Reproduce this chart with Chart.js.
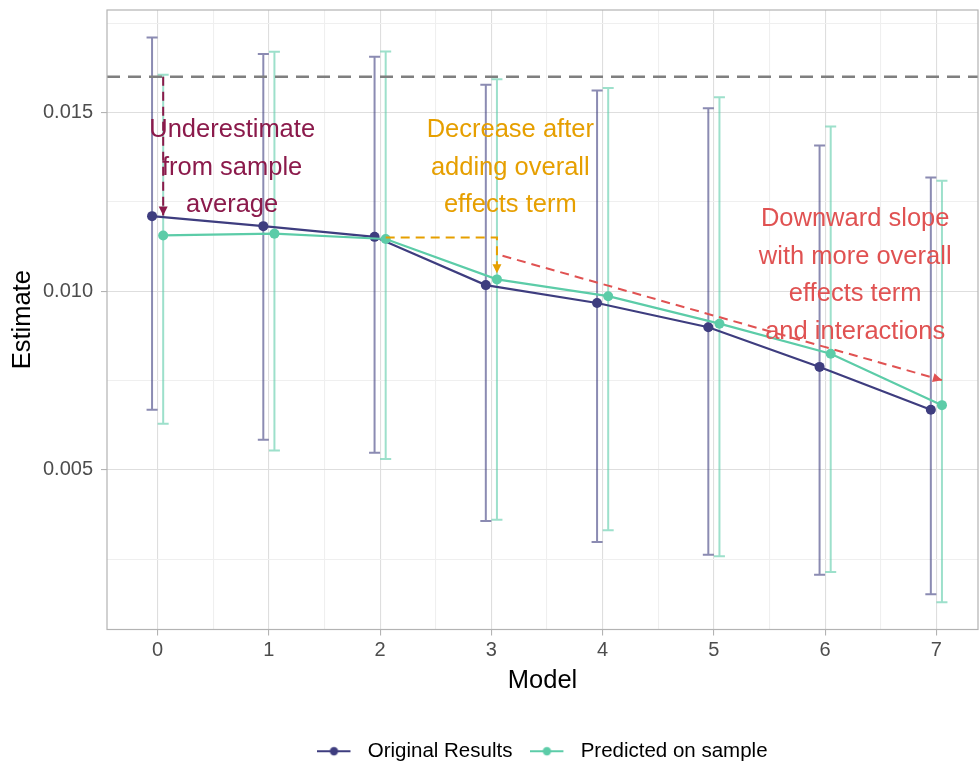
<!DOCTYPE html>
<html>
<head>
<meta charset="utf-8">
<title>Estimate by model</title>
<script src="https://cdn.jsdelivr.net/npm/chart.js@4.4.0/dist/chart.umd.min.js"></script>
<style>
    html, body { margin: 0; padding: 0; background: #ffffff; }
    #wrap { width: 979px; height: 765px; }
</style>
</head>
<body>
<div id="wrap"><canvas id="estimateChart" width="979" height="765"></canvas></div>
<script>
// Values
const models = [0, 1, 2, 3, 4, 5, 6, 7];
const originalEstimate = [0.01210, 0.01182, 0.01152, 0.01017, 0.00967, 0.00899, 0.00788, 0.00668];
const originalLower    = [0.00668, 0.00584, 0.00548, 0.00357, 0.00298, 0.00262, 0.00206, 0.00152];
const originalUpper    = [0.01710, 0.01664, 0.01656, 0.01578, 0.01562, 0.01512, 0.01408, 0.01318];
const predictedEstimate = [0.01156, 0.01161, 0.01146, 0.01033, 0.00986, 0.00909, 0.00825, 0.00681];
const predictedLower    = [0.00629, 0.00554, 0.00530, 0.00360, 0.00331, 0.00258, 0.00214, 0.00129];
const predictedUpper    = [0.01606, 0.01670, 0.01671, 0.01593, 0.01569, 0.01543, 0.01461, 0.01309];
const seriesNames = ['Original Results', 'Predicted on sample'];
const referenceValue = 0.016;

// Styling
const FONT = '"Liberation Sans", Arial, Helvetica, sans-serif';
const NAVY = '#3e3d7f';
const TEAL = '#5ccca8';
const DODGE = 0.05;
const CAP = 5.5;

// Text notes with dashed arrows (positions in data units)
const notes = [
    { lines: ['Underestimate', 'from sample', 'average'], x: 0.67, y: 0.01346, color: '#8b1a4b',
      path: [[0.05, 0.016], [0.05, 0.01212]] },
    { lines: ['Decrease after', 'adding overall', 'effects term'], x: 3.17, y: 0.01346, color: '#e69f00',
      path: [[2.05, 0.0115], [3.05, 0.0115], [3.05, 0.0105]] },
    { lines: ['Downward slope', 'with more overall', 'effects term', 'and interactions'], x: 6.27, y: 0.01044, color: '#e05252',
      path: [[3.1, 0.01099], [7.05, 0.00751]] }
];

function isMajor(v, step) {
    return Math.abs(v / step - Math.round(v / step)) < 1e-6;
}

// Small line + dot key, like the ggplot legend
function legendKey(color) {
    const c = document.createElement('canvas');
    c.width = 40;
    c.height = 12;
    const k = c.getContext('2d');
    k.strokeStyle = color;
    k.lineWidth = 2.2;
    k.beginPath();
    k.moveTo(0, 6);
    k.lineTo(33, 6);
    k.stroke();
    k.fillStyle = color;
    k.beginPath();
    k.arc(16.5, 6, 4.2, 0, Math.PI * 2);
    k.fill();
    return c;
}

function drawErrorBars(ctx, x, y, offset, lower, upper, color) {
    ctx.save();
    ctx.strokeStyle = color;
    ctx.lineWidth = 2;
    ctx.beginPath();
    models.forEach((m, i) => {
        const px = x.getPixelForValue(m + offset);
        const lo = y.getPixelForValue(lower[i]);
        const hi = y.getPixelForValue(upper[i]);
        ctx.moveTo(px, lo); ctx.lineTo(px, hi);
        ctx.moveTo(px - CAP, lo); ctx.lineTo(px + CAP, lo);
        ctx.moveTo(px - CAP, hi); ctx.lineTo(px + CAP, hi);
    });
    ctx.stroke();
    ctx.restore();
}

function drawArrow(ctx, pts, color) {
    ctx.save();
    ctx.strokeStyle = color;
    ctx.fillStyle = color;
    ctx.lineWidth = 2;
    ctx.setLineDash([9, 6]);
    ctx.beginPath();
    pts.forEach((p, i) => (i === 0 ? ctx.moveTo(p[0], p[1]) : ctx.lineTo(p[0], p[1])));
    ctx.stroke();
    // closed head at the end
    const [x1, y1] = pts[pts.length - 2];
    const [x2, y2] = pts[pts.length - 1];
    const a = Math.atan2(y2 - y1, x2 - x1);
    const len = 9, half = 4.5;
    ctx.setLineDash([]);
    ctx.beginPath();
    ctx.moveTo(x2, y2);
    ctx.lineTo(x2 - len * Math.cos(a) + half * Math.sin(a), y2 - len * Math.sin(a) - half * Math.cos(a));
    ctx.lineTo(x2 - len * Math.cos(a) - half * Math.sin(a), y2 - len * Math.sin(a) + half * Math.cos(a));
    ctx.closePath();
    ctx.fill();
    ctx.restore();
}

const decorPlugin = {
    id: 'decor',
    beforeDatasetsDraw(chart) {
        const { ctx, chartArea, scales: { x, y } } = chart;
        drawErrorBars(ctx, x, y, -DODGE, originalLower, originalUpper, 'rgba(62, 61, 127, 0.6)');
        drawErrorBars(ctx, x, y, DODGE, predictedLower, predictedUpper, 'rgba(92, 204, 168, 0.6)');

        // reference line
        const ry = y.getPixelForValue(referenceValue);
        ctx.save();
        ctx.strokeStyle = '#7f7f7f';
        ctx.lineWidth = 2.5;
        ctx.setLineDash([13, 8]);
        ctx.beginPath();
        ctx.moveTo(chartArea.left, ry);
        ctx.lineTo(chartArea.right, ry);
        ctx.stroke();
        ctx.restore();
    },
    afterDatasetsDraw(chart) {
        const { ctx, chartArea, scales: { x, y } } = chart;
        notes.forEach(n => {
            drawArrow(ctx, n.path.map(p => [x.getPixelForValue(p[0]), y.getPixelForValue(p[1])]), n.color);
            ctx.save();
            ctx.fillStyle = n.color;
            ctx.font = '25.5px ' + FONT;
            ctx.textAlign = 'center';
            ctx.textBaseline = 'middle';
            const cx = x.getPixelForValue(n.x);
            const cy = y.getPixelForValue(n.y);
            n.lines.forEach((t, i) => {
                ctx.fillText(t, cx, cy + (i - (n.lines.length - 1) / 2) * 37.5);
            });
            ctx.restore();
        });

        // panel border
        ctx.save();
        ctx.strokeStyle = '#b3b3b3';
        ctx.lineWidth = 1.2;
        ctx.strokeRect(chartArea.left, chartArea.top, chartArea.right - chartArea.left, chartArea.bottom - chartArea.top);
        ctx.restore();
    }
};

Chart.defaults.font.family = FONT;

const ctx = document.getElementById('estimateChart').getContext('2d');
const estimateChart = new Chart(ctx, {
    type: 'line',
    data: {
        datasets: [
            {
                label: seriesNames[0],
                data: models.map((m, i) => ({ x: m - DODGE, y: originalEstimate[i] })),
                borderColor: NAVY,
                backgroundColor: NAVY,
                borderWidth: 2.2,
                pointRadius: 5,
                pointBorderWidth: 0,
                pointBackgroundColor: NAVY,
                tension: 0,
                order: 2
            },
            {
                label: seriesNames[1],
                data: models.map((m, i) => ({ x: m + DODGE, y: predictedEstimate[i] })),
                borderColor: TEAL,
                backgroundColor: TEAL,
                borderWidth: 2.2,
                pointRadius: 5,
                pointBorderWidth: 0,
                pointBackgroundColor: TEAL,
                tension: 0,
                order: 1
            }
        ]
    },
    options: {
        responsive: false,
        animation: false,
        devicePixelRatio: 1,
        layout: { autoPadding: false, padding: { top: 10, right: 1, bottom: -6.5, left: 0 } },
        plugins: {
            tooltip: { enabled: false },
            legend: {
                position: 'bottom',
                fullSize: false,
                labels: {
                    usePointStyle: true,
                    pointStyleWidth: 40,
                    padding: 18,
                    color: '#000000',
                    font: { size: 20.5 },
                    generateLabels: () => [
                        { text: seriesNames[0], pointStyle: legendKey(NAVY), fillStyle: NAVY, strokeStyle: NAVY, lineWidth: 0, hidden: false, datasetIndex: 0 },
                        { text: seriesNames[1], pointStyle: legendKey(TEAL), fillStyle: TEAL, strokeStyle: TEAL, lineWidth: 0, hidden: false, datasetIndex: 1 }
                    ]
                }
            }
        },
        scales: {
            x: {
                type: 'linear',
                min: -0.455,
                max: 7.374,
                afterFit: scale => {
                    scale.height = 93.5;
                    scale.paddingLeft = 0;
                    scale.paddingRight = 0;
                },
                border: { display: false },
                grid: {
                    color: c => (isMajor(c.tick.value, 1) ? '#dedede' : '#efefef'),
                    tickColor: c => (isMajor(c.tick.value, 1) ? '#b3b3b3' : 'rgba(0,0,0,0)'),
                    tickLength: 6,
                    lineWidth: 1.1
                },
                ticks: {
                    stepSize: 0.5,
                    includeBounds: false,
                    autoSkip: false,
                    maxRotation: 0,
                    padding: 3,
                    color: '#4d4d4d',
                    font: { size: 20 },
                    callback: v => (isMajor(v, 1) ? String(Math.round(v)) : '')
                },
                title: {
                    display: true,
                    text: 'Model',
                    color: '#000000',
                    font: { size: 25.5 },
                    padding: { top: 0, bottom: 26.5 }
                }
            },
            y: {
                type: 'linear',
                min: 0.00053,
                max: 0.01787,
                afterFit: scale => {
                    scale.width = 107;
                    scale.paddingTop = 0;
                    scale.paddingBottom = 0;
                },
                border: { display: false },
                grid: {
                    color: c => (isMajor(c.tick.value, 0.005) ? '#dedede' : '#efefef'),
                    tickColor: c => (isMajor(c.tick.value, 0.005) ? '#b3b3b3' : 'rgba(0,0,0,0)'),
                    tickLength: 6,
                    lineWidth: 1.1
                },
                ticks: {
                    stepSize: 0.0025,
                    includeBounds: false,
                    autoSkip: false,
                    padding: 8,
                    color: '#4d4d4d',
                    font: { size: 20 },
                    callback: v => (isMajor(v, 0.005) ? v.toFixed(3) : '')
                },
                title: {
                    display: true,
                    text: 'Estimate',
                    color: '#000000',
                    font: { size: 25.5 },
                    padding: { top: 7.5, bottom: 0 }
                }
            }
        }
    },
    plugins: [decorPlugin]
});
</script>
</body>
</html>
